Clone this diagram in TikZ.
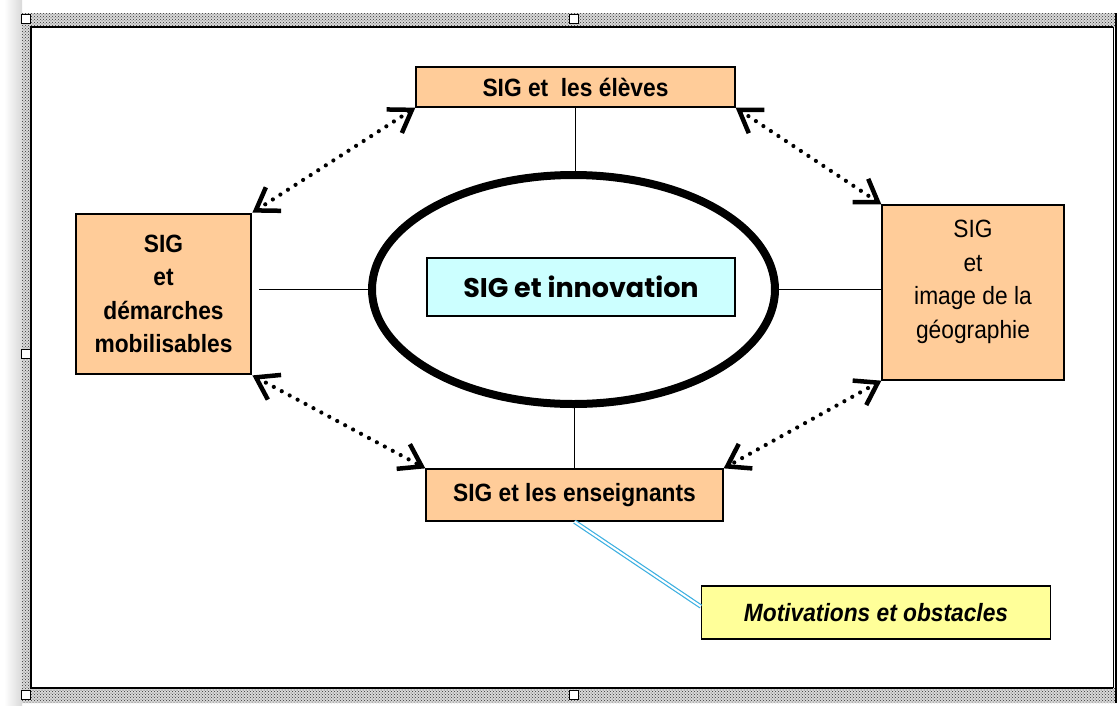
\documentclass[tikz,border=0pt]{standalone}
\usepackage{fontspec}
\setmainfont{Liberation Sans}[FakeStretch=0.91]
\newfontfamily\roundfont{Poppins}
\usetikzlibrary{arrows.meta,shapes.geometric,patterns}
\definecolor{peach}{RGB}{255,204,153}
\definecolor{paleblue}{RGB}{204,255,255}
\definecolor{paleyellow}{RGB}{255,255,153}
\definecolor{linkblue}{RGB}{60,175,225}
\newcommand{\boxfont}{\fontsize{25}{33.5}\selectfont}
\tikzset{% open barbs on the dotted links
    >={Straight Barb[length=21pt,width=28pt,line width=4.5pt]}
}
\tikzset{
    box/.style={draw, fill=peach, line width=1.3pt, inner sep=0pt, align=center, font=\boxfont\bfseries},
    link/.style={<->, line width=4.2pt, dash pattern=on 0pt off 9pt, line cap=round},
    spoke/.style={line width=1.1pt},
    handle/.style={draw, fill=white, line width=1.2pt, minimum size=9pt, inner sep=0pt}
}

\begin{document}
\begin{tikzpicture}[x=1pt,y=-1pt]
    \useasboundingbox (0,0) rectangle (1117,705);

    % window frame
    \shade[left color=white, right color=gray!30] (4,0) rectangle (22,705);
    \fill[gray!30, even odd rule]
        (22,13) rectangle (1117,703) (31,27) rectangle (1117,688);
    \fill[pattern=crosshatch dots, pattern color=black!80, even odd rule]
        (22,13) rectangle (1117,703) (31,27) rectangle (1117,688);
    \draw[line width=2.5pt] (1113,27) -- (31,27) -- (31,688) -- (1113,688);
    \draw[line width=1pt] (1113,27) -- (1113,688);
    \draw[line width=2.5pt] (1116,13) -- (1116,703);
    \foreach \hx/\hy [count=\i] in {26/19,574/19,26/354,26/695,574/695}
        \node[handle] (h\i) at (\hx,\hy) {};

    % centre
    \node[ellipse, draw, line width=8pt, minimum width=403pt, minimum height=229pt] (ell) at (573.5,289.5) {};
    \node[draw, fill=paleblue, line width=1.3pt, minimum width=308pt, minimum height=58pt,
          font=\roundfont\bfseries\fontsize{27}{30}\selectfont] (innov) at (581,287) {SIG et innovation};

    % boxes
    \node[box, minimum width=319pt, minimum height=40pt] (eleves) at (575.5,87) {SIG et\ \ les élèves};
    \node[box, line width=2.8pt, minimum width=175pt, minimum height=160pt] (demarches) at (163.5,294)
        {SIG\\et\\démarches\\mobilisables};
    \node[box, minimum width=182pt, minimum height=175pt] (image) at (973,292.5) {};
    \node[align=center, font=\boxfont] (imagetxt) at (973,282) {SIG\\et\\image de la\\géographie};
    \node[box, minimum width=297pt, minimum height=52pt] (enseignants) at (574.5,495) {SIG et les enseignants};
    \node[box, fill=paleyellow, minimum width=349pt, minimum height=53pt, font=\boxfont\bfseries\itshape]
        (obstacles) at (876,612.5) {Motivations et obstacles};

    % spokes
    \draw[spoke] (eleves.south) -- (eleves.south |- ell.north);
    \draw[spoke] (enseignants.north) -- (enseignants.north |- ell.south);
    \draw[spoke, shorten <=7pt] (demarches.east |- ell.west) -- (ell.west);
    \draw[spoke] (ell.east) -- (ell.east -| image.west);

    % dotted links
    \draw[link] (demarches.north east) -- (eleves.south west);
    \draw[link] (eleves.south east) -- (image.north west);
    \draw[link] (demarches.south east) -- (enseignants.north west);
    \draw[link] (image.south west) -- (enseignants.north east);

    % note
    \draw[linkblue, double=white, double distance=2pt, line width=1.2pt]
        (enseignants.south) -- ([yshift=6pt]obstacles.west);
\end{tikzpicture}
\end{document}
